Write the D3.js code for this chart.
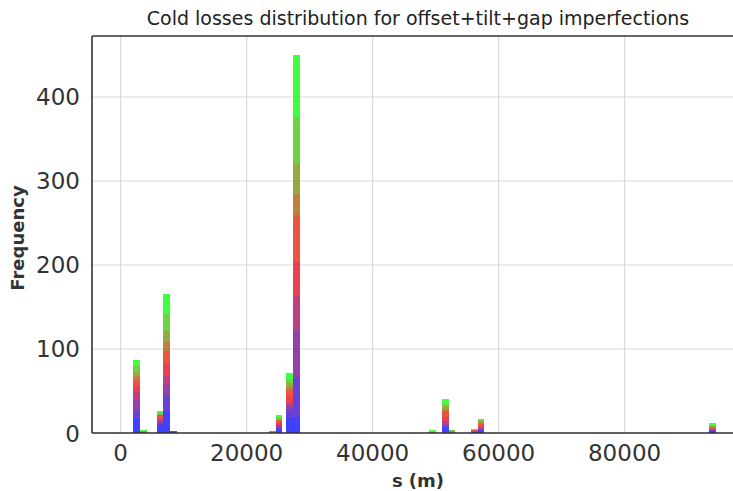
<!DOCTYPE html>
<html><head><meta charset="utf-8">
<script src="https://cdn.jsdelivr.net/npm/d3@7"></script>
<style>html,body{margin:0;padding:0;background:#fff;}svg{display:block;}</style>
</head><body>
<svg id="chart" width="733" height="491"></svg>
<script>
// ---- data ----
const binWidth = 1060; // metres
const binLeft = [2000, 3060, 5700, 6760, 7820, 23540, 24600, 26300, 27360, 49000, 51000, 52060, 55600, 56660, 93400];
// stacked counts per seed (colour goes blue -> red -> green)
const seed0 = [18, 0, 9, 25, 1, 0, 5, 19, 19, 0, 6, 0, 1, 3, 2];
const seed1 = [ 9, 0, 3, 20, 1, 0, 2,  8, 48, 0, 2, 0, 0, 1, 1];
const seed2 = [12, 0, 2, 12, 0, 0, 2,  5, 56, 0, 3, 0, 0, 1, 1];
const seed3 = [10, 0, 2, 12, 0, 0, 1,  4, 40, 0, 3, 0, 1, 1, 0];
const seed4 = [ 7, 0, 2, 14, 0, 0, 2,  7, 40, 0, 5, 0, 0, 2, 1];
const seed5 = [ 7, 1, 3, 15, 0, 0, 3,  8, 57, 1, 7, 1, 1, 3, 1];
const seed6 = [ 5, 0, 1, 10, 0, 2, 1,  4, 24, 0, 3, 1, 0, 2, 1];
const seed7 = [ 5, 1, 1, 14, 0, 0, 1,  5, 38, 0, 3, 0, 0, 1, 1];
const seed8 = [ 7, 0, 1, 20, 0, 0, 2,  4, 54, 0, 3, 1, 0, 1, 2];
const seed9 = [ 7, 2, 2, 24, 0, 0, 2,  8, 74, 2, 6, 1, 2, 2, 2];
const seeds = [seed0, seed1, seed2, seed3, seed4, seed5, seed6, seed7, seed8, seed9];
const xTicks = [0, 20000, 40000, 60000, 80000];
const yTicks = [0, 100, 200, 300, 400];
const titleText = "Cold losses distribution for offset+tilt+gap imperfections";
const xLabel = "s (m)";
const yLabel = "Frequency";

// ---- layout ----
const L = 92, R = 743, T = 36, B = 433;
const svg = d3.select("#chart");
const x = d3.scaleLinear().domain([-4550, 98800]).range([L, R]);
const y = d3.scaleLinear().domain([0, 472.6]).range([B, T]);
const brg = d3.scaleLinear().domain([0, 0.5, 1]).range(["#0000ff", "#ff0000", "#00ff00"]).interpolate(d3.interpolateRgb);

// grid
const grid = svg.append("g");
grid.selectAll(".gx").data(xTicks).join("line")
  .attr("x1", d => x(d)).attr("x2", d => x(d)).attr("y1", T).attr("y2", B)
  .attr("stroke", "#d9d9d9").attr("stroke-width", 1.2);
grid.selectAll(".gy").data(yTicks).join("line")
  .attr("x1", L).attr("x2", R).attr("y1", d => y(d)).attr("y2", d => y(d))
  .attr("stroke", "#d9d9d9").attr("stroke-width", 1.2);

// stacked histogram
const rows = binLeft.map((b, i) => {
  const r = { left: b };
  seeds.forEach((s, k) => r["s" + k] = s[i]);
  return r;
});
const keys = seeds.map((s, k) => "s" + k);
const stacked = d3.stack().keys(keys)(rows);
const bars = svg.append("g").attr("shape-rendering", "crispEdges");
stacked.forEach((layer, k) => {
  bars.append("g")
    .attr("fill", brg(k / (seeds.length - 1)))
    .attr("fill-opacity", 0.75)
    .selectAll("rect").data(layer.filter(d => d[1] > d[0])).join("rect")
    .attr("x", d => x(d.data.left))
    .attr("width", d => x(d.data.left + binWidth) - x(d.data.left))
    .attr("y", d => y(d[1]))
    .attr("height", d => y(d[0]) - y(d[1]));
});

// spines
const sp = svg.append("g").attr("stroke", "#333").attr("stroke-width", 1.6);
sp.append("line").attr("x1", L).attr("x2", L).attr("y1", T).attr("y2", B);
sp.append("line").attr("x1", L).attr("x2", R).attr("y1", T).attr("y2", T);
sp.append("line").attr("x1", L).attr("x2", R).attr("y1", B).attr("y2", B);
sp.append("line").attr("x1", R).attr("x2", R).attr("y1", T).attr("y2", B);

// tick labels
const font = "DejaVu Sans";
svg.append("g").selectAll("text").data(yTicks).join("text")
  .attr("x", 80).attr("y", d => y(d) + 8.5)
  .attr("text-anchor", "end").attr("font-family", font).attr("font-size", 23)
  .attr("fill", "#333").text(d => d);
svg.append("g").selectAll("text").data(xTicks).join("text")
  .attr("x", d => x(d)).attr("y", 461)
  .attr("text-anchor", "middle").attr("font-family", font).attr("font-size", 23)
  .attr("fill", "#333").text(d => d);

// labels
svg.append("text").attr("x", 418).attr("y", 25).attr("text-anchor", "middle")
  .attr("font-family", font).attr("font-size", 19).attr("fill", "#222").text(titleText);
svg.append("text").attr("x", 418).attr("y", 487).attr("text-anchor", "middle")
  .attr("font-family", font).attr("font-size", 18).attr("font-weight", "bold").attr("fill", "#333").text(xLabel);
svg.append("text").attr("transform", "translate(24,238) rotate(-90)").attr("text-anchor", "middle")
  .attr("font-family", font).attr("font-size", 18).attr("font-weight", "bold").attr("fill", "#333").text(yLabel);
</script>
</body></html>
